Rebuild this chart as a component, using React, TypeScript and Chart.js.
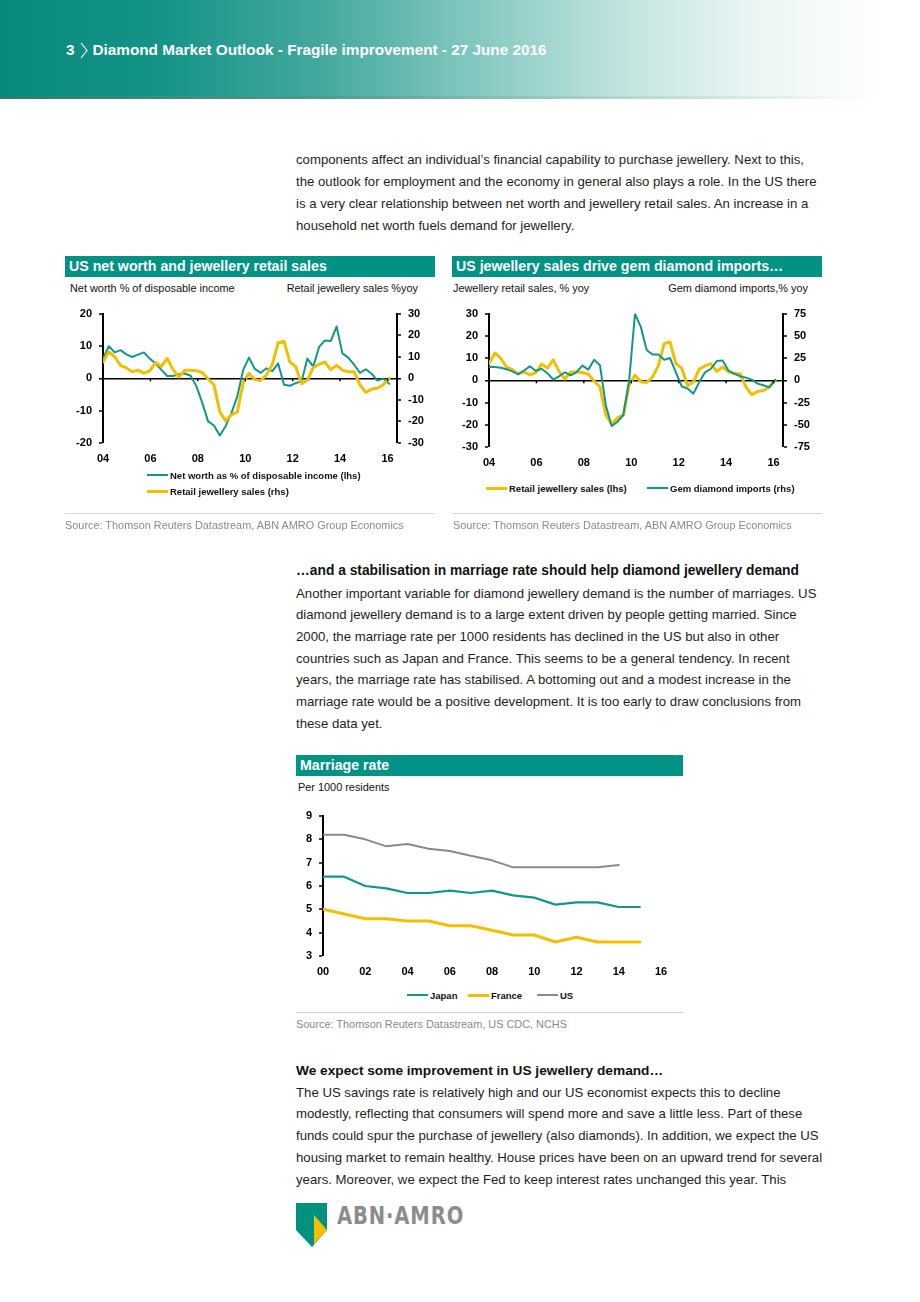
import React, { useEffect, useRef } from "react";
import { Chart, registerables } from "chart.js";

Chart.register(...registerables);

// ---------- colours ----------
const TEAL = "#13968a";
const GOLD = "#f2bf00";
const GRAY = "#8a8a8a";
const BAR = "#009384";
const FONT = "'Liberation Sans', Arial, Helvetica, sans-serif";

// ---------- data: quarterly series 2004Q1 .. 2016Q2 ----------
const QUARTER_START = 2004;
const QUARTER_STEP = 0.2463;

const netWorth = [
  6.1, 9.9, 8.0, 8.7, 7.4, 6.6, 7.3, 8.0, 6.1, 4.6, 2.6, 0.7, 0.7, 1.3, 1.5, 0.8,
  -2.5, -7.6, -13.3, -14.6, -17.7, -14.8, -10.7, -5.6, 2.6, 6.4, 2.9, 1.7, 3.1, 2.2,
  4.6, -2.0, -2.3, -1.5, -1.0, 6.1, 3.6, 9.7, 11.7, 11.5, 16.0, 7.7, 6.4, 4.2, 1.7,
  2.8, 1.4, -0.7, -0.1, -1.7,
];

const retailSales = [
  7.5, 12.3, 10.0, 6.0, 4.8, 3.0, 3.8, 2.4, 3.4, 7.3, 5.5, 9.2, 4.0, 0.6, 3.7, 3.7,
  3.5, 2.7, -0.3, -3.0, -15.5, -19.8, -16.8, -15.7, -2.0, 2.3, -0.7, -1.0, 1.5, 6.5,
  16.5, 17.2, 7.5, 5.5, -2.5, -0.8, 5.0, 6.5, 7.5, 4.0, 6.0, 3.8, 3.0, 3.0, -3.0,
  -6.5, -5.0, -4.6, -3.0, 0.0,
];

const gemImports = [
  15, 15, 14, 12.5, 10, 6.7, 11, 15.7, 10.4, 13, 8, 0.7, 4.5, 9, 5.6, 9.3, 16.5, 12,
  23, 17, -28, -51.5, -46.6, -39, 0, 74.6, 60, 34, 29, 29, 23, 25, 9, -6.7, -9.3, -15,
  -2, 9, 13, 21.6, 22.4, 11, 7.5, 4.5, 3, 0.7, -3.7, -5.6, -8, 0.5,
];

const yearTicks = [2004, 2006, 2008, 2010, 2012, 2014, 2016];
const yearLabels = ["04", "06", "08", "10", "12", "14", "16"];

// ---------- data: marriage rate per 1000 residents ----------
const marriageYears = [2000, 2001, 2002, 2003, 2004, 2005, 2006, 2007, 2008, 2009, 2010, 2011, 2012, 2013, 2014, 2015];
const japan = [6.4, 6.4, 6.0, 5.9, 5.7, 5.7, 5.8, 5.7, 5.8, 5.6, 5.5, 5.2, 5.3, 5.3, 5.1, 5.1];
const france = [5.0, 4.8, 4.6, 4.6, 4.5, 4.5, 4.3, 4.3, 4.1, 3.9, 3.9, 3.6, 3.8, 3.6, 3.6, 3.6];
const us = [8.2, 8.2, 8.0, 7.7, 7.8, 7.6, 7.5, 7.3, 7.1, 6.8, 6.8, 6.8, 6.8, 6.8, 6.9];
const marriageTicks = [2000, 2002, 2004, 2006, 2008, 2010, 2012, 2014, 2016];
const marriageLabels = ["00", "02", "04", "06", "08", "10", "12", "14", "16"];

// ---------- helpers ----------
const quarterly = (vals: number[]) =>
  vals.map((v, i) => ({ x: QUARTER_START + i * QUARTER_STEP, y: v }));
const yearly = (years: number[], vals: number[]) => vals.map((v, i) => ({ x: years[i], y: v }));

const tickFont = { family: FONT, size: 11, weight: "bold" as const };

function yScale(position: "left" | "right", min: number, max: number, step: number, width: number, zeroLine: boolean) {
  return {
    type: "linear" as const,
    position,
    min,
    max,
    afterBuildTicks: (s: any) => {
      const t: any[] = [];
      for (let v = min; v <= max + 1e-9; v += step) t.push({ value: v });
      s.ticks = t;
    },
    ticks: { color: "#000", font: tickFont, padding: 7 },
    border: { display: true, color: "#000", width: 2 },
    grid: {
      drawOnChartArea: zeroLine,
      color: (ctx: any) => (ctx.tick && ctx.tick.value === 0 ? "#000" : "rgba(0,0,0,0)"),
      lineWidth: (ctx: any) => (ctx.tick && ctx.tick.value === 0 ? 1.6 : 0),
      tickColor: "#000",
      tickLength: 4,
      tickWidth: 1.5,
    },
    afterFit: (s: any) => {
      s.width = width;
    },
  };
}

function xScale(min: number, max: number, ticks: number[], labels: string[]) {
  return {
    type: "linear" as const,
    min,
    max,
    afterBuildTicks: (s: any) => {
      s.ticks = ticks.map((v) => ({ value: v }));
    },
    ticks: {
      color: "#000",
      font: tickFont,
      padding: 9,
      autoSkip: false,
      maxRotation: 0,
      callback: (_v: any, i: number) => labels[i],
    },
    grid: { display: false, drawTicks: false },
    border: { display: false },
    afterFit: (s: any) => {
      s.height = 27;
    },
  };
}

// small tick marks hanging below the zero line
const zeroTicks = {
  id: "zeroTicks",
  afterDatasetsDraw(chart: any, _a: any, opts: any) {
    if (!opts || !opts.on) return;
    const x = chart.scales.x;
    const y = chart.scales[opts.axis || "y"];
    const y0 = y.getPixelForValue(0);
    const ctx = chart.ctx;
    ctx.save();
    ctx.strokeStyle = "#000";
    ctx.lineWidth = 1.5;
    x.ticks.forEach((t: any) => {
      const px = x.getPixelForValue(t.value);
      if (px <= chart.chartArea.left + 2) return;
      ctx.beginPath();
      ctx.moveTo(px, y0);
      ctx.lineTo(px, y0 + 3);
      ctx.stroke();
    });
    ctx.restore();
  },
};

function ChartBox({ make, left, top, width, height }: { make: () => any; left: number; top: number; width: number; height: number }) {
  const ref = useRef<HTMLCanvasElement>(null);
  useEffect(() => {
    const c = new Chart(ref.current as HTMLCanvasElement, make());
    return () => c.destroy();
  }, []);
  return (
    <div style={{ position: "absolute", left, top, width, height }}>
      <canvas ref={ref} />
    </div>
  );
}

const baseOptions = (padding: any) => ({
  responsive: true,
  maintainAspectRatio: false,
  animation: false as const,
  layout: { padding },
  plugins: { legend: { display: false }, tooltip: { enabled: false } },
  elements: { point: { radius: 0 }, line: { tension: 0, borderCapStyle: "round" as const, borderJoinStyle: "round" as const } },
});

const chart1 = () => ({
  type: "line",
  data: {
    datasets: [
      { label: "Net worth as % of disposable income (lhs)", data: quarterly(netWorth), borderColor: TEAL, borderWidth: 2, yAxisID: "y", order: 1 },
      { label: "Retail jewellery sales (rhs)", data: quarterly(retailSales), borderColor: GOLD, borderWidth: 3, yAxisID: "y1", order: 0 },
    ],
  },
  options: {
    ...baseOptions({ top: 12, left: 0, right: 0, bottom: 0 }),
    plugins: { legend: { display: false }, tooltip: { enabled: false }, zeroTicks: { on: true, axis: "y" } },
    scales: {
      x: xScale(2004, 2016.4, yearTicks, yearLabels),
      y: yScale("left", -20, 20, 10, 38, true),
      y1: yScale("right", -30, 30, 10, 38, false),
    },
  },
  plugins: [zeroTicks],
});

const chart2 = () => ({
  type: "line",
  data: {
    datasets: [
      { label: "Retail jewellery sales (lhs)", data: quarterly(retailSales), borderColor: GOLD, borderWidth: 3, yAxisID: "y", order: 1 },
      { label: "Gem diamond imports (rhs)", data: quarterly(gemImports), borderColor: TEAL, borderWidth: 2, yAxisID: "y1", order: 0 },
    ],
  },
  options: {
    ...baseOptions({ top: 12, left: 0, right: 0, bottom: 0 }),
    plugins: { legend: { display: false }, tooltip: { enabled: false }, zeroTicks: { on: true, axis: "y" } },
    scales: {
      x: xScale(2004, 2016.4, yearTicks, yearLabels),
      y: yScale("left", -30, 30, 10, 37, true),
      y1: yScale("right", -75, 75, 25, 39, false),
    },
  },
  plugins: [zeroTicks],
});

const chart3 = () => ({
  type: "line",
  data: {
    datasets: [
      { label: "Japan", data: yearly(marriageYears, japan), borderColor: TEAL, borderWidth: 2.2 },
      { label: "France", data: yearly(marriageYears, france), borderColor: GOLD, borderWidth: 3 },
      { label: "US", data: yearly(marriageYears, us), borderColor: GRAY, borderWidth: 2 },
    ],
  },
  options: {
    ...baseOptions({ top: 16, left: 0, right: 22, bottom: 0 }),
    scales: {
      x: xScale(2000, 2016, marriageTicks, marriageLabels),
      y: yScale("left", 3, 9, 1, 27, false),
    },
  },
});

// ---------- page pieces ----------
function T({ x, y, size = 13.2, bold = false, color = "#1e1e1e", children, right }: any) {
  const lh = Math.round(size * 1.3);
  const style: any = {
    position: "absolute",
    top: y - lh / 2,
    fontSize: size,
    lineHeight: `${lh}px`,
    fontWeight: bold ? "bold" : "normal",
    color,
    whiteSpace: "nowrap",
    fontFamily: FONT,
  };
  if (right !== undefined) style.right = 920 - right;
  else style.left = x;
  return <div style={style}>{children}</div>;
}

function TitleBar({ x, y, w, text }: any) {
  return (
    <div
      style={{
        position: "absolute",
        left: x,
        top: y,
        width: w,
        height: 21,
        background: BAR,
        color: "#fff",
        fontFamily: FONT,
        fontWeight: "bold",
        fontSize: 14.2,
        lineHeight: "21px",
        paddingLeft: 4,
        boxSizing: "border-box",
        whiteSpace: "nowrap",
        overflow: "hidden",
      }}
    >
      {text}
    </div>
  );
}

function LegendItem({ x, y, color, text, thick = 3 }: any) {
  return (
    <div style={{ position: "absolute", left: x, top: y - 7, height: 14, display: "flex", alignItems: "center", fontFamily: FONT, fontWeight: "bold", fontSize: 9.5, color: "#111", whiteSpace: "nowrap" }}>
      <span style={{ display: "inline-block", width: 21, height: thick, background: color, marginRight: 2 }} />
      {text}
    </div>
  );
}

function Rule({ x, y, w }: any) {
  return <div style={{ position: "absolute", left: x, top: y, width: w, height: 1, background: "#d6d6d6" }} />;
}

const para1 = [
  "components affect an individual\u2019s financial capability to purchase jewellery. Next to this,",
  "the outlook for employment and the economy in general also plays a role. In the US there",
  "is a very clear relationship between net worth and jewellery retail sales. An increase in a",
  "household net worth fuels demand for jewellery.",
];
const para2 = [
  "Another important variable for diamond jewellery demand is the number of marriages. US",
  "diamond jewellery demand is to a large extent driven by people getting married. Since",
  "2000, the marriage rate per 1000 residents has declined in the US but also in other",
  "countries such as Japan and France. This seems to be a general tendency. In recent",
  "years, the marriage rate has stabilised. A bottoming out and a modest increase in the",
  "marriage rate would be a positive development. It is too early to draw conclusions from",
  "these data yet.",
];
const para3 = [
  "The US savings rate is relatively high and our US economist expects this to decline",
  "modestly, reflecting that consumers will spend more and save a little less. Part of these",
  "funds could spur the purchase of jewellery (also diamonds). In addition, we expect the US",
  "housing market to remain healthy. House prices have been on an upward trend for several",
  "years. Moreover, we expect the Fed to keep interest rates unchanged this year. This",
];

export default function App() {
  return (
    <div style={{ position: "absolute", left: 0, top: 0, width: 920, height: 1302, background: "#fff", overflow: "hidden", fontFamily: FONT }}>
      {/* header band */}
      <div
        style={{
          position: "absolute",
          left: 0,
          top: 0,
          width: 920,
          height: 97,
          background: "linear-gradient(to right, #078a7c 0%, #159487 18%, #45a99e 35%, #85c9c1 52%, #c3e4e0 68%, #eaf5f4 82%, #ffffff 96%)",
        }}
      />
      <div style={{ position: "absolute", left: 0, top: 96, width: 920, height: 3, background: "linear-gradient(to right, #2a7d73 0%, #4f9990 35%, #a9d3ce 65%, #ffffff 95%)" }} />
      <div style={{ position: "absolute", left: 66, top: 40, height: 20, display: "flex", alignItems: "center", color: "#fff", fontFamily: FONT, fontWeight: "bold", fontSize: 15.3, whiteSpace: "nowrap" }}>
        <span>3</span>
        <svg width="12" height="17" viewBox="0 0 12 17" style={{ margin: "0 3px 0 3px" }}>
          <polyline points="3,1 9,8.5 3,16" fill="none" stroke="#fff" strokeWidth="1.1" />
        </svg>
        <span>Diamond Market Outlook - Fragile improvement - 27 June 2016</span>
      </div>

      {/* paragraph 1 */}
      {para1.map((l, i) => (
        <T key={"p1" + i} x={296} y={159 + i * 22}>{l}</T>
      ))}

      {/* chart 1 */}
      <TitleBar x={65} y={256} w={370} text="US net worth and jewellery retail sales" />
      <T x={70} y={288} size={10.9} color="#111">Net worth % of disposable income</T>
      <T right={418} y={288} size={10.9} color="#111">Retail jewellery sales %yoy</T>
      <ChartBox make={chart1} left={65} top={300} width={370} height={170} />
      <LegendItem x={147} y={475} color={TEAL} thick={2} text="Net worth as % of disposable income (lhs)" />
      <LegendItem x={147} y={491} color={GOLD} thick={3} text="Retail jewellery sales (rhs)" />
      <Rule x={65} y={513} w={370} />
      <T x={65} y={525} size={10.9} color="#8a8a8a">Source: Thomson Reuters Datastream, ABN AMRO Group Economics</T>

      {/* chart 2 */}
      <TitleBar x={452} y={256} w={370} text={"US jewellery sales drive gem diamond imports\u2026"} />
      <T x={453} y={288} size={10.9} color="#111">Jewellery retail sales, % yoy</T>
      <T right={808} y={288} size={10.9} color="#111">Gem diamond imports,% yoy</T>
      <ChartBox make={chart2} left={452} top={300} width={370} height={174} />
      <LegendItem x={486} y={488} color={GOLD} thick={3} text="Retail jewellery sales (lhs)" />
      <LegendItem x={647} y={488} color={TEAL} thick={2} text="Gem diamond imports (rhs)" />
      <Rule x={452} y={513} w={370} />
      <T x={453} y={525} size={10.9} color="#8a8a8a">Source: Thomson Reuters Datastream, ABN AMRO Group Economics</T>

      {/* section 2 */}
      <T x={296} y={571} size={13.8} bold color="#111">{"\u2026and a stabilisation in marriage rate should help diamond jewellery demand"}</T>
      {para2.map((l, i) => (
        <T key={"p2" + i} x={296} y={593 + i * 21.7}>{l}</T>
      ))}

      {/* chart 3 */}
      <TitleBar x={296} y={755} w={387} text="Marriage rate" />
      <T x={298} y={787} size={10.9} color="#111">Per 1000 residents</T>
      <ChartBox make={chart3} left={296} top={800} width={387} height={183} />
      <LegendItem x={407} y={995} color={TEAL} thick={2} text="Japan" />
      <LegendItem x={468} y={995} color={GOLD} thick={3} text="France" />
      <LegendItem x={537} y={995} color={GRAY} thick={2} text="US" />
      <Rule x={296} y={1012} w={387} />
      <T x={296} y={1024} size={10.9} color="#8a8a8a">Source: Thomson Reuters Datastream, US CDC, NCHS</T>

      {/* section 3 */}
      <T x={296} y={1071} size={13.7} bold color="#111">{"We expect some improvement in US jewellery demand\u2026"}</T>
      {para3.map((l, i) => (
        <T key={"p3" + i} x={296} y={1092 + i * 21.8}>{l}</T>
      ))}

      {/* logo */}
      <svg style={{ position: "absolute", left: 296, top: 1203 }} width="32" height="45" viewBox="0 0 32 45">
        <polygon points="0,0 31,0 31,27 16,44 0,27" fill="#00927f" />
        <polygon points="18,12 31,27 18,41" fill="#f4bf00" />
      </svg>
      <div style={{ position: "absolute", left: 337, top: 1201, fontFamily: "'Liberation Sans Narrow', 'DejaVu Sans Condensed', sans-serif", fontWeight: "bold", fontSize: 25, lineHeight: "30px", letterSpacing: 1, color: "#8c8c8c", whiteSpace: "nowrap", transform: "scaleX(0.87)", transformOrigin: "left center" }}>
        {"ABN\u00b7AMRO"}
      </div>
    </div>
  );
}
